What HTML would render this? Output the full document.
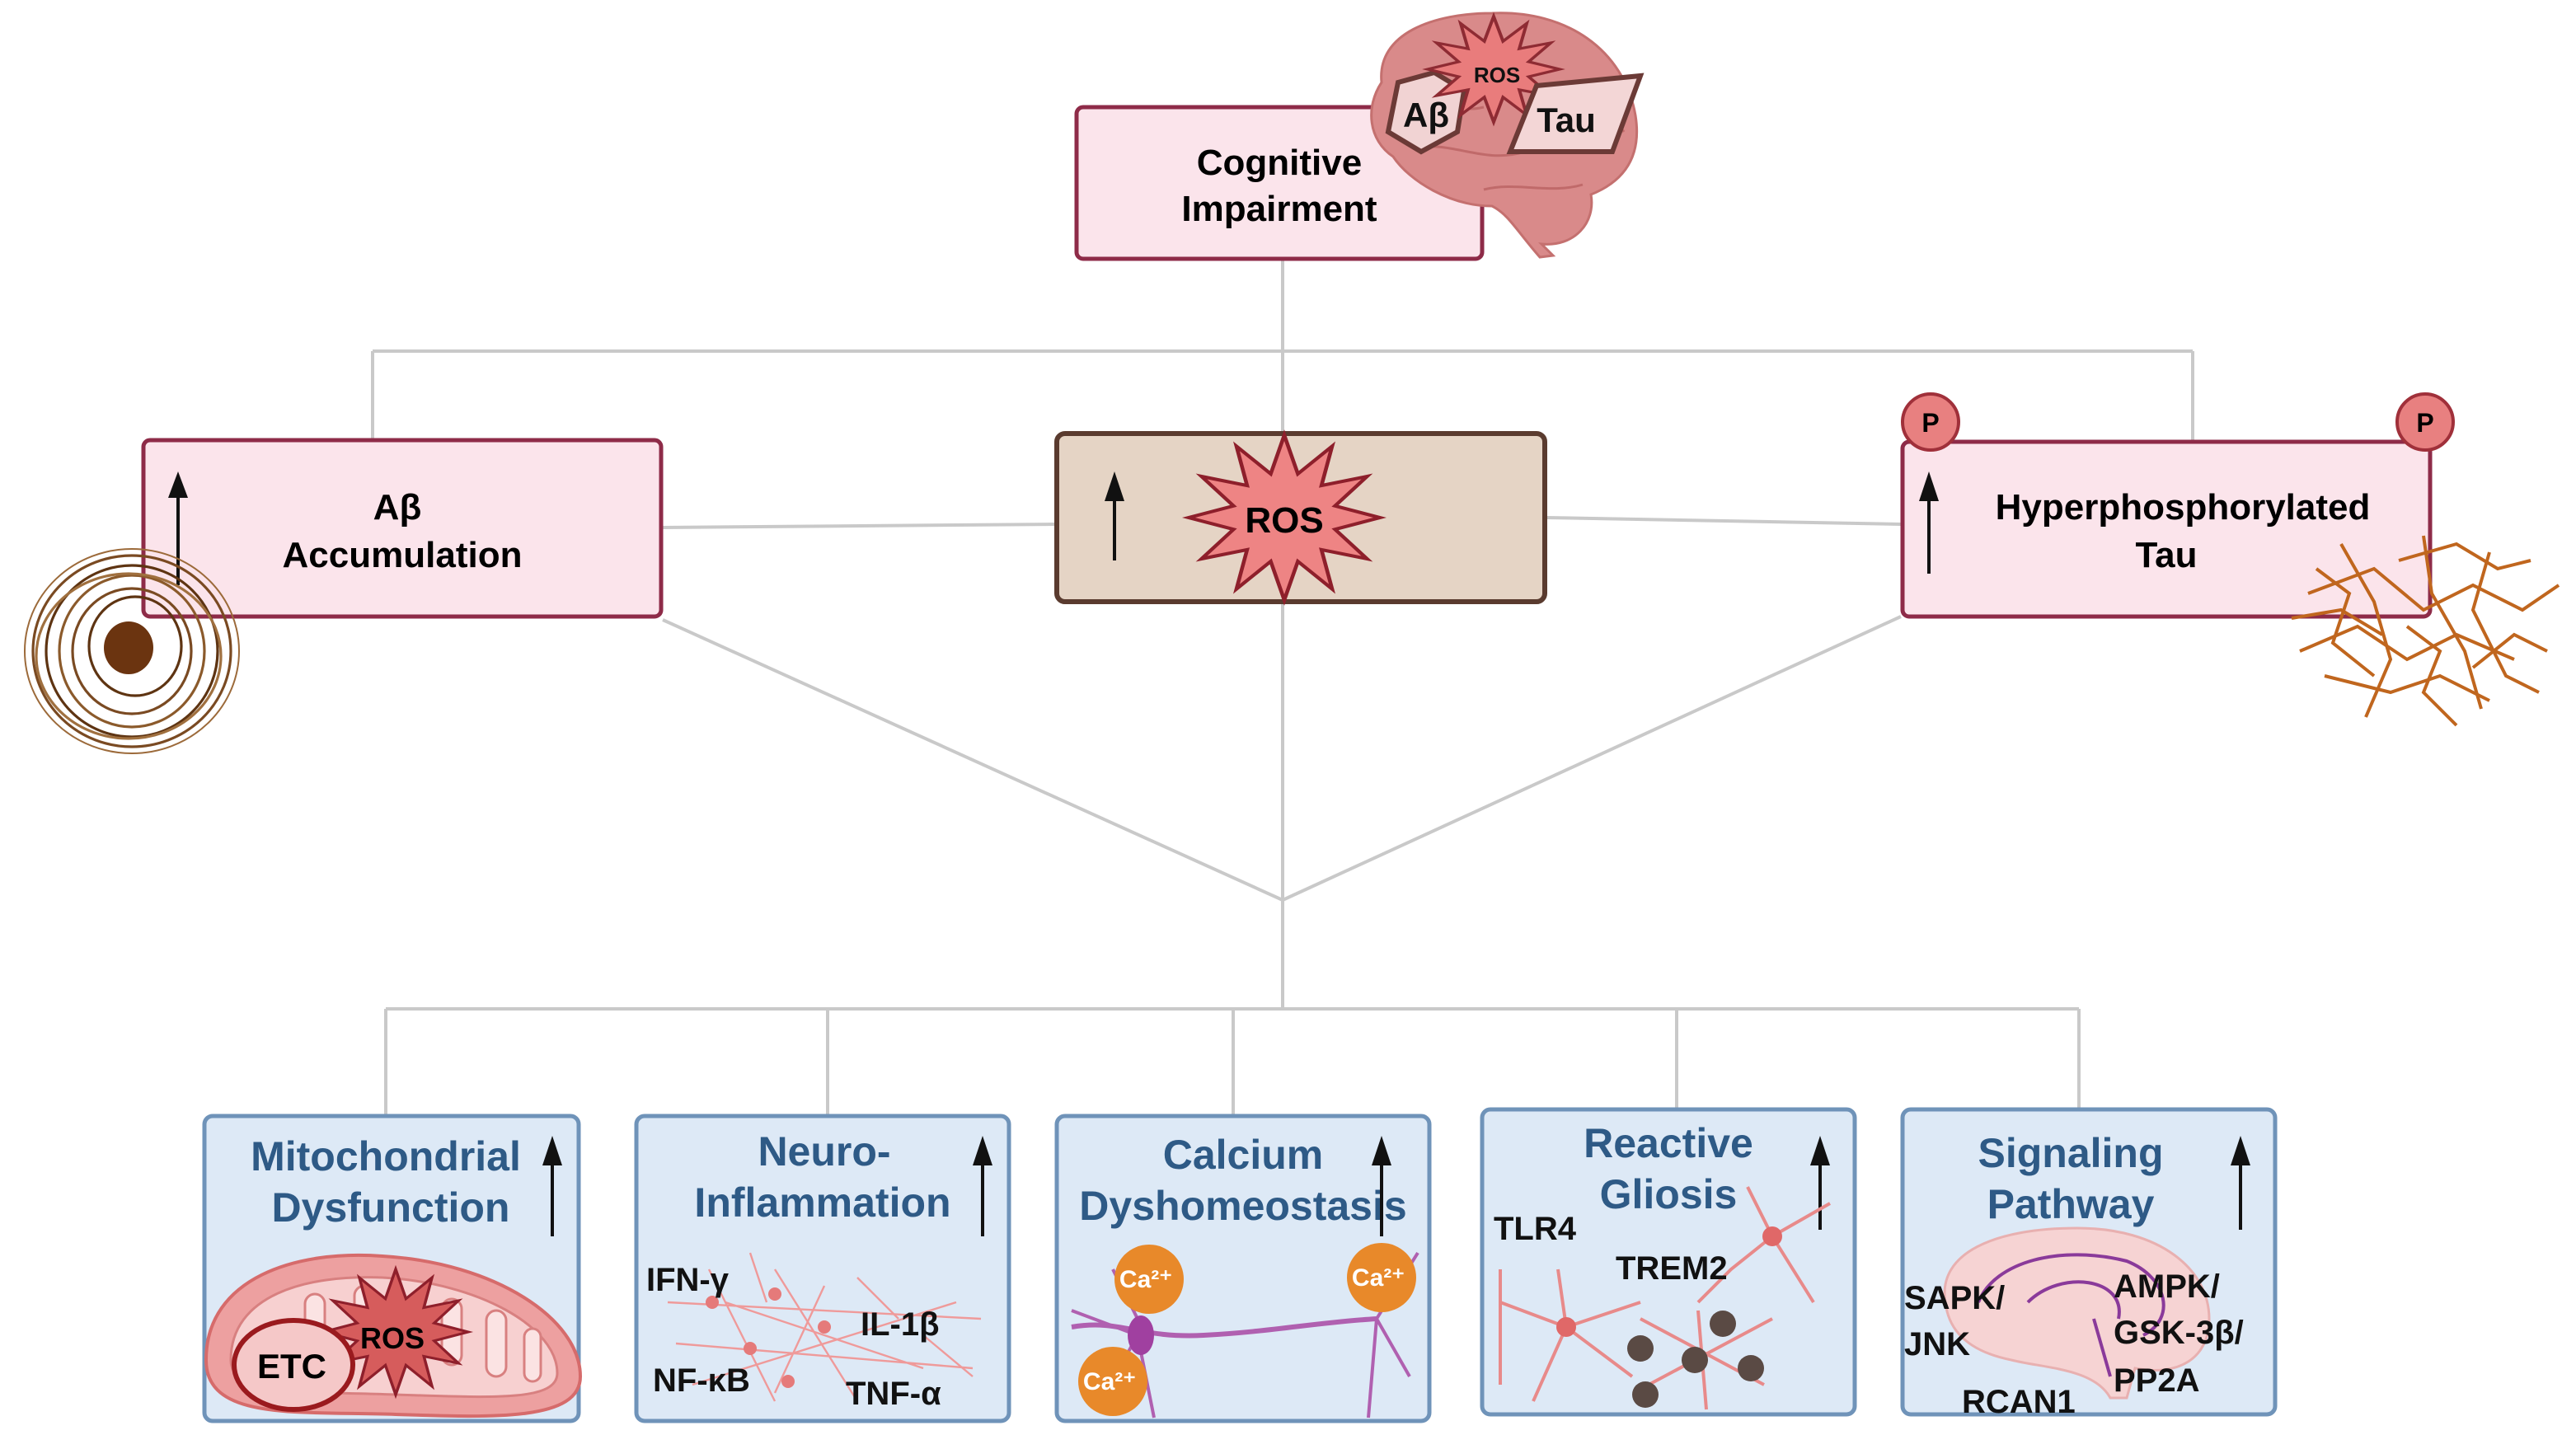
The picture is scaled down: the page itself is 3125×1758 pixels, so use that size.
<!DOCTYPE html>
<html><head><meta charset="utf-8"><style>
html,body{margin:0;padding:0;background:#fff}
svg{display:block}
text{font-family:"Liberation Sans",sans-serif;font-weight:bold}
</style></head><body>
<svg width="3125" height="1758" viewBox="0 0 1562.5 879" xmlns="http://www.w3.org/2000/svg">
<defs>
<polygon id="star" points="0,-1 .142,-.531 .5,-.866 .389,-.389 .866,-.5 .531,-.142 1,0 .531,.142 .866,.5 .389,.389 .5,.866 .142,.531 0,1 -.142,.531 -.5,.866 -.389,.389 -.866,.5 -.531,.142 -1,0 -.531,-.142 -.866,-.5 -.389,-.389 -.5,-.866 -.142,-.531"/>
</defs>
<g stroke="#c9c9c9" stroke-width="2" fill="none">
<line x1="778" y1="157" x2="778" y2="262"/>
<line x1="226" y1="213" x2="1330" y2="213"/>
<line x1="226" y1="213" x2="226" y2="266"/>
<line x1="1330" y1="213" x2="1330" y2="267"/>
<line x1="402" y1="320" x2="640" y2="318"/>
<line x1="938" y1="314" x2="1153" y2="318"/>
<line x1="402" y1="376" x2="778" y2="546"/>
<line x1="778" y1="366" x2="778" y2="612"/>
<line x1="1153" y1="374" x2="778" y2="546"/>
<line x1="234" y1="612" x2="1261" y2="612"/>
<line x1="234" y1="612" x2="234" y2="676"/>
<line x1="502" y1="612" x2="502" y2="676"/>
<line x1="748" y1="612" x2="748" y2="676"/>
<line x1="1017" y1="612" x2="1017" y2="672"/>
<line x1="1261" y1="612" x2="1261" y2="672"/>
</g>

<rect x="653" y="65" width="246" height="92" rx="4" fill="#fbe4eb" stroke="#8e2b48" stroke-width="2.5"/>
<text x="776" y="106" font-size="22" text-anchor="middle" fill="#000">Cognitive</text>
<text x="776" y="134" font-size="22" text-anchor="middle" fill="#000">Impairment</text>
<g>
<path d="M838,50 C835,20 870,8 905,8 C950,6 985,30 992,70 C996,95 985,110 965,118 C968,135 955,150 935,148 L942,155 L934,156 C920,140 915,130 905,125 C880,125 855,110 845,95 C830,85 828,65 838,50Z" fill="#d98a8a" stroke="#c4706f" stroke-width="1.5"/>
<path d="M850,60 C870,55 880,70 900,65 M860,90 C880,85 900,100 925,92 M940,60 C960,70 975,65 985,80 M900,115 C920,110 940,118 960,112" stroke="#c06a6a" stroke-width="1.5" fill="none"/>
<polygon points="848,50 870,44 888,55 884,80 862,92 842,80" fill="#f1d3d3" stroke="#6b3a36" stroke-width="3"/>
<text x="865" y="77" font-size="21" text-anchor="middle" fill="#111">Aβ</text>
<use href="#star" transform="translate(906,42) scale(40,32)" fill="#e97c7c" stroke="#8e2b33" stroke-width="0.05"/>
<text x="908" y="50" font-size="13" text-anchor="middle" fill="#111" font-weight="normal">ROS</text>
<polygon points="932,52 995,46 978,92 916,92" fill="#f3d6d6" stroke="#6b3a36" stroke-width="3"/>
<text x="950" y="80" font-size="21" text-anchor="middle" fill="#111">Tau</text>
</g>

<rect x="87" y="267" width="314" height="107" rx="4" fill="#fbe4eb" stroke="#8e2b48" stroke-width="2.5"/>
<text x="241" y="315" font-size="22" text-anchor="middle">Aβ</text>
<text x="244" y="344" font-size="22" text-anchor="middle">Accumulation</text>
<line x1="108" y1="355" x2="108" y2="300" stroke="#111" stroke-width="2"/>
<polygon points="102,302 108,286 114,302" fill="#111"/>
<g fill="none" stroke="#7a4a22" stroke-width="1.6">
<ellipse cx="80" cy="395" rx="60" ry="58"/>
<ellipse cx="80" cy="395" rx="52" ry="52" stroke="#5e3412"/>
<ellipse cx="80" cy="395" rx="44" ry="46" stroke="#8b5a2b"/>
<ellipse cx="80" cy="395" rx="36" ry="38"/>
<ellipse cx="82" cy="392" rx="28" ry="30" stroke="#5e3412"/>
<ellipse cx="78" cy="398" rx="56" ry="50" stroke="#a0703f"/>
<ellipse cx="80" cy="395" rx="65" ry="62" stroke="#9c6a3a" stroke-width="1"/>
</g>
<ellipse cx="78" cy="393" rx="15" ry="16" fill="#6b3410"/>

<rect x="641" y="263" width="296" height="102" rx="5" fill="#e5d4c5" stroke="#5a3b2f" stroke-width="3"/>
<line x1="676" y1="340" x2="676" y2="302" stroke="#111" stroke-width="2"/>
<polygon points="670,304 676,286 682,304" fill="#111"/>
<use href="#star" transform="translate(779,314) scale(58,50)" fill="#ee8484" stroke="#8e1f2b" stroke-width="0.04"/>
<text x="779" y="323" font-size="22" text-anchor="middle">ROS</text>

<rect x="1154" y="268" width="320" height="106" rx="4" fill="#fbe4eb" stroke="#8e2b48" stroke-width="2.5"/>
<circle cx="1171" cy="256" r="17" fill="#e88080" stroke="#a0303a" stroke-width="2"/>
<text x="1171" y="262" font-size="16" text-anchor="middle" font-weight="normal">P</text>
<circle cx="1471" cy="256" r="17" fill="#e88080" stroke="#a0303a" stroke-width="2"/>
<text x="1471" y="262" font-size="16" text-anchor="middle" font-weight="normal">P</text>
<line x1="1170" y1="348" x2="1170" y2="302" stroke="#111" stroke-width="2"/>
<polygon points="1164,304 1170,286 1176,304" fill="#111"/>
<text x="1324" y="315" font-size="22" text-anchor="middle">Hyperphosphorylated</text>
<text x="1314" y="344" font-size="22" text-anchor="middle">Tau</text>
<g fill="none" stroke="#c0661e" stroke-width="2">
<path d="M1400,360 L1440,345 L1470,370 L1500,355 L1530,370 L1552,355"/>
<path d="M1395,395 L1430,380 L1460,400 L1490,385 L1525,400"/>
<path d="M1420,330 L1440,365 L1450,400 L1435,435"/>
<path d="M1470,325 L1475,360 L1495,395 L1505,430"/>
<path d="M1510,335 L1500,370 L1520,410 L1540,420"/>
<path d="M1410,410 L1450,420 L1480,410 L1510,425"/>
<path d="M1390,375 L1420,370 L1445,385"/>
<path d="M1405,345 L1425,360 L1415,390 L1440,410"/>
<path d="M1455,340 L1490,330 L1515,345 L1535,340"/>
<path d="M1460,380 L1480,395 L1470,420 L1490,440"/>
<path d="M1500,405 L1525,385 L1545,395"/>
</g>

<g fill="#dde9f6" stroke="#6f93b9" stroke-width="2.5">
<rect x="124" y="677" width="227" height="185" rx="5"/>
<rect x="386" y="677" width="226" height="185" rx="5"/>
<rect x="641" y="677" width="226" height="185" rx="5"/>
<rect x="899" y="673" width="226" height="185" rx="5"/>
<rect x="1154" y="673" width="226" height="185" rx="5"/>
</g>

<path d="M125,825 C125,775 180,758 232,762 C300,766 352,800 352,835 C352,862 300,860 240,858 C180,856 125,862 125,825Z" fill="#eda0a0" stroke="#d66b6b" stroke-width="2"/>
<path d="M140,825 C140,786 185,773 232,775 C290,778 338,805 338,833 C338,850 300,848 240,846 C180,844 140,846 140,825Z" fill="#f7d0d0" stroke="#d88080" stroke-width="1.5"/>
<g fill="#fbe3e3" stroke="#d88080" stroke-width="1.5">
<rect x="185" y="785" width="12" height="36" rx="6"/><rect x="215" y="780" width="12" height="36" rx="6"/>
<rect x="268" y="788" width="12" height="40" rx="6"/><rect x="295" y="795" width="12" height="40" rx="6"/><rect x="318" y="806" width="10" height="32" rx="5"/>
</g>
<use href="#star" transform="translate(240,808) scale(44,38)" fill="#d65c5c" stroke="#8e1f2b" stroke-width="0.04"/>
<text x="238" y="818" font-size="18" text-anchor="middle">ROS</text>
<ellipse cx="178" cy="828" rx="36" ry="27" fill="#f5c8c8" stroke="#9a1a1e" stroke-width="3"/>
<text x="177" y="836" font-size="21" text-anchor="middle">ETC</text>

<g fill="#2e5a86" font-size="25" text-anchor="middle">
<text x="234" y="710">Mitochondrial</text>
<text x="237" y="741">Dysfunction</text>
<text x="500" y="707">Neuro-</text>
<text x="499" y="738">Inflammation</text>
<text x="754" y="709">Calcium</text>
<text x="754" y="740">Dyshomeostasis</text>
<text x="1012" y="702">Reactive</text>
<text x="1012" y="733">Gliosis</text>
<text x="1256" y="708">Signaling</text>
<text x="1256" y="739">Pathway</text>
</g>
<g stroke="#111" stroke-width="2">
<line x1="335" y1="750" x2="335" y2="705"/><line x1="596" y1="750" x2="596" y2="705"/>
<line x1="838" y1="750" x2="838" y2="705"/><line x1="1104" y1="746" x2="1104" y2="705"/>
<line x1="1359" y1="746" x2="1359" y2="705"/>
</g>
<g fill="#111">
<polygon points="329,707 335,689 341,707"/><polygon points="590,707 596,689 602,707"/>
<polygon points="832,707 838,689 844,707"/><polygon points="1098,707 1104,689 1110,707"/>
<polygon points="1353,707 1359,689 1365,707"/>
</g>

<g stroke="#ef9a9a" stroke-width="1.2" fill="none">
<path d="M405,790 L595,800 M410,815 L590,830 M430,770 L470,850 M470,770 L520,850 M500,780 L470,845 M440,790 L560,830 M420,840 L580,790"/>
<path d="M455,760 L465,790 M520,775 L545,800 M560,810 L590,835"/>
</g>
<g fill="#e57a7a"><circle cx="432" cy="790" r="4"/><circle cx="470" cy="785" r="4"/><circle cx="500" cy="805" r="4"/><circle cx="455" cy="818" r="4"/><circle cx="478" cy="838" r="4"/></g>
<g font-size="20" fill="#111">
<text x="392" y="783">IFN-γ</text><text x="522" y="810">IL-1β</text>
<text x="396" y="844">NF-κB</text><text x="513" y="852">TNF-α</text>
</g>

<g stroke="#b060b0" fill="none" stroke-width="3">
<path d="M650,805 C680,800 690,812 730,810 C770,808 800,802 835,800"/>
<path d="M690,810 L665,855 M690,810 L700,860 M690,810 L650,795 M690,800 L675,770 M835,800 L860,760 M835,800 L855,835 M835,800 L830,860" stroke-width="2"/>
</g>
<ellipse cx="692" cy="810" rx="8" ry="12" fill="#a040a0"/>
<g fill="#e8892a"><circle cx="697" cy="776" r="21"/><circle cx="838" cy="775" r="21"/><circle cx="675" cy="838" r="21"/></g>
<g fill="#fff" font-size="15" font-weight="normal" text-anchor="middle">
<text x="695" y="781">Ca²⁺</text><text x="836" y="780">Ca²⁺</text><text x="673" y="843">Ca²⁺</text>
</g>

<g stroke="#e88a8a" stroke-width="2" fill="none">
<path d="M910,790 L950,805 L995,790 M950,805 L930,850 M950,805 L990,835 M950,805 L945,770 M910,770 L910,840"/>
<path d="M1075,750 L1050,770 L1030,790 M1075,750 L1110,730 M1075,750 L1100,790 M1075,750 L1060,720"/>
<path d="M995,800 L1070,840 M1000,840 L1075,800 M1030,795 L1035,855"/>
</g>
<g fill="#e06868"><circle cx="950" cy="805" r="6"/><circle cx="1075" cy="750" r="6"/></g>
<g fill="#5a4a44"><circle cx="1045" cy="803" r="8"/><circle cx="995" cy="818" r="8"/><circle cx="1028" cy="825" r="8"/><circle cx="1062" cy="830" r="8"/><circle cx="998" cy="846" r="8"/></g>
<g font-size="20" fill="#111"><text x="906" y="752">TLR4</text><text x="980" y="776">TREM2</text></g>

<path d="M1180,790 C1175,760 1210,745 1260,745 C1310,745 1340,770 1340,800 C1340,825 1320,835 1295,830 L1290,848 L1280,848 C1270,830 1240,830 1220,825 C1195,820 1182,808 1180,790Z" fill="#f6d3d3" stroke="#e8b0b0" stroke-width="1.5"/>
<path d="M1200,790 C1210,765 1250,755 1290,765 C1315,775 1320,800 1300,810 M1230,790 C1250,770 1290,775 1285,800 M1270,800 L1280,835" stroke="#8a3a9a" stroke-width="2" fill="none"/>
<g font-size="20" fill="#111">
<text x="1155" y="794">SAPK/</text><text x="1155" y="822">JNK</text>
<text x="1282" y="787">AMPK/</text><text x="1282" y="815">GSK-3β/</text><text x="1282" y="844">PP2A</text>
<text x="1190" y="857">RCAN1</text>
</g>
</svg>
</body></html>
